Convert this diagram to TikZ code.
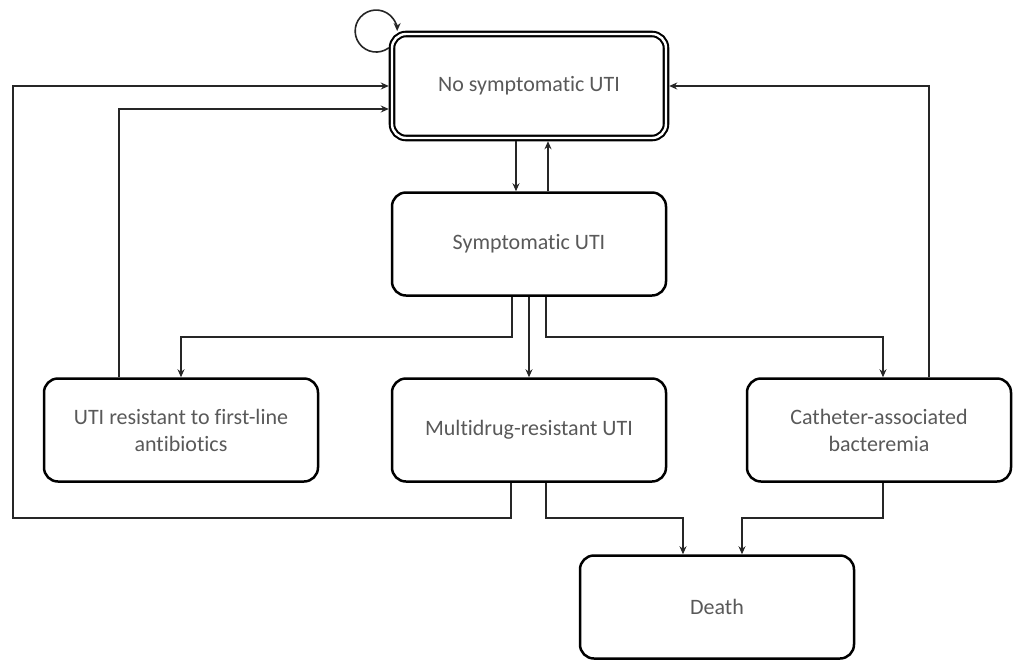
\documentclass[tikz,border=0pt]{standalone}
\usepackage{fontspec}
\setmainfont{Carlito}[Ligatures=NoCommon]
\usetikzlibrary{arrows.meta}

\begin{document}
\begin{tikzpicture}
  [x=0.5pt, y=-0.5pt,
   state/.style={draw, rounded corners=7pt, line width=1.25pt, minimum width=137pt,
                 minimum height=51.5pt, align=center, text=black!65,
                 font=\fontsize{11}{13.5}\selectfont},
   link/.style={draw=black!85, line width=0.8pt},
   arr/.style={link, -{Stealth[length=4pt,width=3.5pt]}}]
  \useasboundingbox (0,0) rectangle (1014,660);
  % states
  \node[state, double, double distance=1.2pt, line width=1.05pt, outer sep=1.6pt,
        minimum width=137pt, minimum height=52pt] (nsu) at (529,86) {No symptomatic UTI};
  \node[state] (su) at (529,244) {Symptomatic UTI};
  \node[state] (res) at (181,430) {UTI resistant to first-line\\antibiotics};
  \node[state] (mdr) at (529,430) {Multidrug-resistant UTI};
  \node[state, minimum width=132pt] (cab) at (879,430) {Catheter-associated\\bacteremia};
  \node[state] (death) at (717,607) {Death};
  % transitions
  \draw[arr] ([yshift=-8.5pt]nsu.north west) arc[start angle=-53, end angle=-360, radius=10.5pt];
  \draw[arr] ([xshift=-6.5pt]nsu.south) -- ([xshift=-6.5pt]su.north);
  \draw[arr] ([xshift=9.5pt]su.north) -- ([xshift=9.5pt]nsu.south);
  \draw[arr] ([xshift=-8.5pt]su.south) -- ++(0,40) -| (res.north);
  \draw[arr] (su.south) -- (mdr.north);
  \draw[arr] ([xshift=8.5pt]su.south) -- ++(0,40) -| ([xshift=2pt]cab.north);
  \draw[arr] ([xshift=25pt]cab.north) |- (nsu.east);
  \draw[arr] ([xshift=-31pt]res.north) |- ([yshift=-11.5pt]nsu.west);
  \draw[arr] ([xshift=-9pt]mdr.south) -- ++(0,35) -- ++(-498,0) |- (nsu.west);
  \draw[arr] ([xshift=8.5pt]mdr.south) -- ++(0,35) -| ([xshift=-17pt]death.north);
  \draw[arr] ([xshift=2pt]cab.south) -- ++(0,35) -| ([xshift=12.5pt]death.north);
\end{tikzpicture}
\end{document}
